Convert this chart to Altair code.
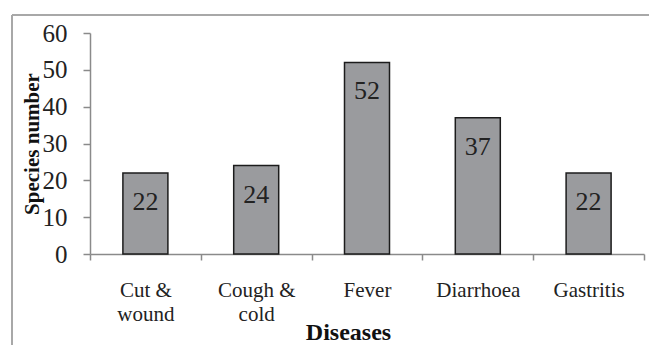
import altair as alt
import pandas as pd

diseases = ["Cut & wound", "Cough & cold", "Fever", "Diarrhoea", "Gastritis"]
species = [22, 24, 52, 37, 22]
y_ticks = [0, 10, 20, 30, 40, 50, 60]

df = pd.DataFrame({"Disease": diseases, "Species": species})
FONT = "Liberation Serif"

base = alt.Chart(df)

x_enc = alt.X(
    "Disease:N",
    sort=diseases,
    scale=alt.Scale(paddingInner=0, paddingOuter=0),
    axis=alt.Axis(
        title="Diseases",
        labelAngle=0,
        labelExpr="split(replace(datum.label, '& ', '&~'), '~')",
        labelFont=FONT,
        labelFontSize=21,
        labelColor="#222222",
        labelPadding=19,
        labelLineHeight=24,
        tickBand="extent",
        tickSize=6,
        tickColor="#8a8a8a",
        tickWidth=1.5,
        domainColor="#8a8a8a",
        domainWidth=1.5,
        titleFont=FONT,
        titleFontSize=24,
        titleFontWeight="bold",
        titleColor="#111111",
        titleBaseline="alphabetic",
        titleY=85,
        titleX=258,
        titleAlign="center",
    ),
)

y_enc = alt.Y(
    "Species:Q",
    scale=alt.Scale(domain=[0, 60], nice=False),
    axis=alt.Axis(
        title="Species number",
        values=y_ticks,
        tickCount=7,
        grid=False,
        labelOverlap=False,
        labelFont=FONT,
        labelFontSize=25,
        labelColor="#222222",
        labelPadding=16,
        tickSize=7,
        tickColor="#8a8a8a",
        tickWidth=1.5,
        domainColor="#8a8a8a",
        domainWidth=1.5,
        titleFont=FONT,
        titleFontSize=21,
        titleFontWeight="bold",
        titleColor="#111111",
        titleX=-58,
        titleBaseline="middle",
    ),
)

bars = base.mark_bar(
    size=45, color="#9a9b9e", stroke="#1c1c1c", strokeWidth=1.5
).encode(x=x_enc, y=y_enc)

labels = base.mark_text(
    font=FONT, fontSize=26, color="#222222", baseline="middle", dy=29
).encode(x=x_enc, y=y_enc, text="Species:Q")

frame = pd.DataFrame({"k": [0]})
top_line = alt.Chart(frame).mark_rule(color="#a8a8a8", strokeWidth=2).encode(
    x=alt.value(-78), x2=alt.value(559), y=alt.value(-18)
)
left_line = alt.Chart(frame).mark_rule(color="#a8a8a8", strokeWidth=2).encode(
    x=alt.value(-78), y=alt.value(-18), y2=alt.value(312)
)

chart = (
    alt.layer(bars, labels, top_line, left_line)
    .properties(
        width=554,
        height=221,
        autosize=alt.AutoSizeParams(type="none"),
        padding={"left": 90, "top": 33, "right": 5, "bottom": 91},
        background="white",
    )
    .configure_view(stroke=None)
)

chart.save("out.html", embed_options={"renderer": "svg", "actions": False})
